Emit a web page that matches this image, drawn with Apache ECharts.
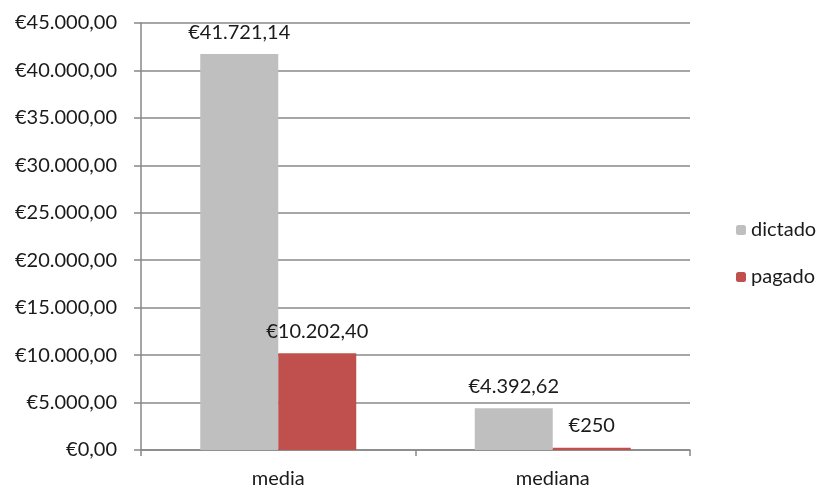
<!DOCTYPE html>
<html>
<head>
<meta charset="utf-8">
<script src="https://cdn.jsdelivr.net/npm/echarts@6/dist/echarts.min.js"></script>
<style>
  html, body { margin: 0; padding: 0; background: #fff; }
  #chart { width: 828px; height: 491px; }
</style>
</head>
<body>
<div id="chart"></div>
<script>
// datos
const categories = ['media', 'mediana'];
const dictado = [41721.14, 4392.62];
const pagado = [10202.40, 250];
const dictadoLabels = ['€41.721,14', '€4.392,62'];
const pagadoLabels = ['€10.202,40', '€250'];

const chart = echarts.init(document.getElementById('chart'));

// formato euro con separador de miles y dos decimales
function euro(v) {
    const parts = v.toFixed(2).split('.');
    parts[0] = parts[0].replace(/\B(?=(\d{3})+(?!\d))/g, '.');
    return '€' + parts[0] + ',' + parts[1];
}

const fontFamily = 'Lato';
const textColor = '#1a1a1a';
const fontSize = 20;

const option = {
    animation: false,
    textStyle: { fontFamily: fontFamily },
    grid: { left: 141, right: 138, top: 23, bottom: 41 },
    legend: {
        orient: 'vertical',
        left: 731,
        top: 215,
        itemWidth: 10,
        itemHeight: 10,
        itemGap: 27,
        textStyle: { fontSize: fontSize, color: textColor, fontFamily: fontFamily },
        data: ['dictado', 'pagado']
    },
    xAxis: {
        type: 'category',
        data: categories,
        axisLine: { lineStyle: { color: '#888', width: 1.5 } },
        axisTick: { show: true, length: 6, lineStyle: { color: '#888', width: 1.5 } },
        axisLabel: { fontSize: fontSize, color: textColor, margin: 19 }
    },
    yAxis: {
        type: 'value',
        min: 0,
        max: 45000,
        interval: 5000,
        axisLine: { show: true, lineStyle: { color: '#888', width: 1.5 } },
        axisTick: { show: true, length: 7, lineStyle: { color: '#888', width: 1.5 } },
        splitLine: { lineStyle: { color: '#888', width: 1.5 } },
        axisLabel: { fontSize: fontSize, color: textColor, margin: 24, formatter: euro }
    },
    series: [
        {
            name: 'dictado',
            type: 'bar',
            data: dictado,
            barWidth: 78,
            barGap: '0%',
            itemStyle: { color: '#BFBFBF' },
            label: {
                show: true,
                position: 'top',
                distance: 12,
                fontSize: fontSize,
                color: textColor,
                formatter: p => dictadoLabels[p.dataIndex]
            }
        },
        {
            name: 'pagado',
            type: 'bar',
            data: pagado,
            barWidth: 78,
            itemStyle: { color: '#C0504D' },
            label: {
                show: true,
                position: 'top',
                distance: 12,
                fontSize: fontSize,
                color: textColor,
                formatter: p => pagadoLabels[p.dataIndex]
            }
        }
    ]
};

chart.setOption(option);
</script>
</body>
</html>
